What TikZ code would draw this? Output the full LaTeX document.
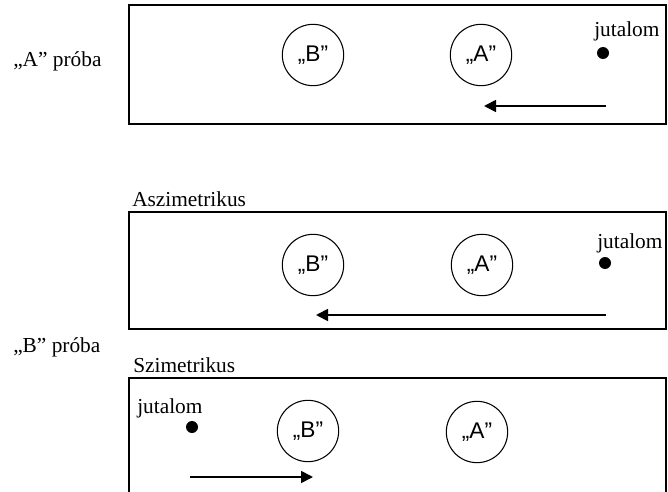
\documentclass[tikz,border=0pt]{standalone}
\usepackage{fontspec}
\setmainfont{Liberation Serif}
\setsansfont{Liberation Sans}
\usetikzlibrary{arrows.meta}

\tikzset{
  panel/.style={draw=black, line width=0.8pt},
  lbl/.style={inner sep=0pt, anchor=base west, font=\fontsize{16}{19}\selectfont},
  field/.style={circle, draw=black, line width=0.8pt, minimum size=46pt, inner sep=0pt,
                font=\sffamily\fontsize{17}{20}\selectfont},
  food/.style={circle, fill=black, minimum size=9pt, inner sep=0pt},
  run/.style={line width=1.3pt, -{Triangle[length=9pt, width=9pt]}}
}

\begin{document}
\begin{tikzpicture}[x=0.75pt, y=-0.75pt]
  \useasboundingbox (0,0) rectangle (668,492);

  % "A" trial
  \node[lbl] (labA) at (13,67) {„A” próba};
  \draw[panel] (129,5) rectangle (666,124);
  \node[field] (a1B) at (313,55) {„B”};
  \node[field] (a1A) at (481,55) {„A”};
  \node[lbl] (a1j) at (594,37) {jutalom};
  \node[food] (a1d) at (603,53) {};
  \coordinate (a1s) at (606,106);
  \coordinate (a1e) at (484,106);
  \draw[run] (a1s) -- (a1e);

  % "B" trial, asymmetric
  \node[lbl] (labB) at (13,352) {„B” próba};
  \node[lbl] (asz) at (132,206) {Aszimetrikus};
  \draw[panel] (129,212) rectangle (666,329);
  \node[field] (b1B) at (313,265) {„B”};
  \node[field] (b1A) at (482,265) {„A”};
  \node[lbl] (b1j) at (597,248) {jutalom};
  \node[food] (b1d) at (605,263) {};
  \coordinate (b1s) at (606,315);
  \coordinate (b1e) at (316,315);
  \draw[run] (b1s) -- (b1e);

  % "B" trial, symmetric
  \node[lbl] (szi) at (133,372) {Szimetrikus};
  \draw[panel] (129,500) -- (129,378) -- (666,378) -- (666,500);
  \node[lbl] (b2j) at (137,413) {jutalom};
  \node[food] (b2d) at (192,427) {};
  \node[field] (b2B) at (308,431) {„B”};
  \node[field] (b2A) at (477,432) {„A”};
  \coordinate (b2s) at (190,477);
  \coordinate (b2e) at (313,477);
  \draw[run] (b2s) -- (b2e);
\end{tikzpicture}
\end{document}
